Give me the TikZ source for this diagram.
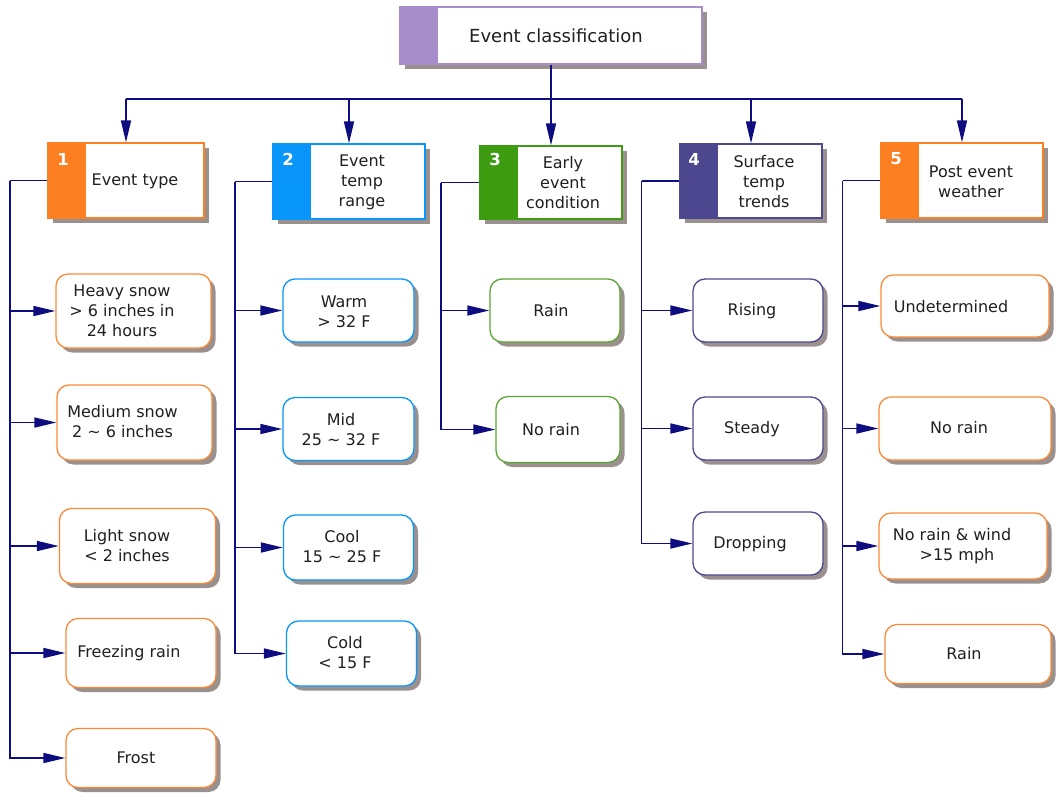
\documentclass[tikz,border=0pt]{standalone}
\usepackage{fontspec}
\setmainfont{DejaVu Sans}
\usetikzlibrary{arrows.meta,shadows}
\definecolor{navyl}{HTML}{0D0D80}
\definecolor{orangec}{HTML}{FC7F22}
\definecolor{orangeb}{HTML}{FB8A38}
\definecolor{bluec}{HTML}{0896FB}
\definecolor{greenc}{HTML}{3E9C10}
\definecolor{greenb}{HTML}{5AA632}
\definecolor{purpd}{HTML}{4D478F}
\definecolor{purpl}{HTML}{A78DCA}
\definecolor{shadowc}{HTML}{9A918F}
\definecolor{txtc}{HTML}{202020}
\begin{document}
\begin{tikzpicture}[x=1pt,y=-1pt,
  shad/.style={drop shadow={shadow xshift=4.5pt,shadow yshift=-4.5pt,fill=shadowc,opacity=1}},
  cat/.style={draw=#1, fill=white, line width=1.3pt, inner sep=0pt, shad,
    path picture={\fill[#1] (path picture bounding box.north west) rectangle ([xshift=38pt]path picture bounding box.south west);}},
  child/.style={draw=#1, fill=white, line width=1.3pt, rounded corners=12pt, inner sep=0pt, shad},
  txt/.style={text=txtc, align=center, inner sep=0pt, font=\fontsize{16}{20}\selectfont},
  num/.style={text=white, inner sep=0pt, font=\fontsize{16.5}{20}\selectfont\bfseries},
  ln/.style={draw=navyl, line width=1.7pt},
  arr/.style={ln, -{Triangle[length=22pt,width=10pt]}}]
\useasboundingbox (0,0) rectangle (1062,793);

% top
\node[cat=purpl, minimum width=302pt, minimum height=57pt] (top) at (551,35.5) {};
\node[txt, font=\fontsize{18}{22}\selectfont] (topt) at (556,36) {Event classification};

% categories
\node[cat=orangec, minimum width=156pt, minimum height=75pt] (c1) at (126,180.5) {};
\node[txt] (c1t) at (135,181) {Event type};
\node[num] (c1n) at (63,159) {1};

\node[cat=bluec, minimum width=152pt, minimum height=75pt] (c2) at (349,181.5) {};
\node[txt] (c2t) at (362,182) {Event\\temp\\range};
\node[num] (c2n) at (288,159) {2};

\node[cat=greenc, minimum width=142pt, minimum height=73pt] (c3) at (551,182.5) {};
\node[txt] (c3t) at (563,183) {Early\\event\\condition};
\node[num] (c3n) at (495,159) {3};

\node[cat=purpd, minimum width=142pt, minimum height=74pt] (c4) at (751,181) {};
\node[txt] (c4t) at (764,182) {Surface\\temp\\trends};
\node[num] (c4n) at (694,159) {4};

\node[cat=orangec, minimum width=162pt, minimum height=75pt] (c5) at (962,180.5) {};
\node[txt] (c5t) at (971,182) {Post event\\weather};
\node[num] (c5n) at (896,159) {5};

% column 1
\node[child=orangeb, minimum width=155pt, minimum height=74pt] (heavy) at (133.5,311) {};
\node[txt] (heavyt) at (122,311) {Heavy snow\\> 6 inches in\\24 hours};
\node[child=orangeb, minimum width=155pt, minimum height=75pt] (medium) at (134.5,422.5) {};
\node[txt] (mediumt) at (122.5,422) {Medium snow\\2 \textasciitilde{} 6 inches};
\node[child=orangeb, minimum width=156pt, minimum height=75pt] (light) at (137.5,546) {};
\node[txt] (lightt) at (127,546) {Light snow\\< 2 inches};
\node[child=orangeb, minimum width=150pt, minimum height=69pt] (freezing) at (141,653) {};
\node[txt] (freezingt) at (129,653) {Freezing rain};
\node[child=orangeb, minimum width=150pt, minimum height=59pt] (frost) at (141,758) {};
\node[txt] (frostt) at (136,758) {Frost};

% column 2
\node[child=bluec, minimum width=131pt, minimum height=63pt] (warm) at (348.5,310.5) {};
\node[txt] (warmt) at (344,312) {Warm\\> 32 F};
\node[child=bluec, minimum width=131pt, minimum height=63pt] (mid) at (348.5,429) {};
\node[txt] (midt) at (341,429.5) {Mid\\25 \textasciitilde{} 32 F};
\node[child=bluec, minimum width=130pt, minimum height=65pt] (cool) at (348.5,547.5) {};
\node[txt] (coolt) at (342,547) {Cool\\15 \textasciitilde{} 25 F};
\node[child=bluec, minimum width=130pt, minimum height=65pt] (cold) at (351.5,653.5) {};
\node[txt] (coldt) at (345,653) {Cold\\< 15 F};

% column 3
\node[child=greenb, minimum width=130pt, minimum height=63pt] (rain3) at (555,310.5) {};
\node[txt] (rain3t) at (551,311) {Rain};
\node[child=greenb, minimum width=124pt, minimum height=66pt] (norain3) at (558,429.5) {};
\node[txt] (norain3t) at (551,430) {No rain};

% column 4
\node[child=purpd, minimum width=130pt, minimum height=63pt] (rising) at (758,310.5) {};
\node[txt] (risingt) at (752,311) {Rising};
\node[child=purpd, minimum width=130pt, minimum height=63pt] (steady) at (758,428.5) {};
\node[txt] (steadyt) at (752,429) {Steady};
\node[child=purpd, minimum width=130pt, minimum height=63pt] (dropping) at (758,543.5) {};
\node[txt] (droppingt) at (750,544) {Dropping};

% column 5
\node[child=orangeb, minimum width=168pt, minimum height=62pt] (undet) at (965,306) {};
\node[txt] (undett) at (951,307) {Undetermined};
\node[child=orangeb, minimum width=172pt, minimum height=63pt] (norain5) at (965,428.5) {};
\node[txt] (norain5t) at (959,428) {No rain};
\node[child=orangeb, minimum width=168pt, minimum height=66pt] (wind) at (963,546) {};
\node[txt] (windt) at (952,546) {No rain \& wind\\\hspace*{10pt}>15 mph};
\node[child=orangeb, minimum width=166pt, minimum height=59pt] (rain5) at (968,654) {};
\node[txt] (rain5t) at (964,654) {Rain};

% top connectors
\coordinate (bus) at (0,99);
\draw[ln] (top.south) -- (top.south |- bus);
\draw[ln] (c1.north |- bus) -- (c5.north |- bus);
\foreach \c in {c1,c2,c3,c4,c5} \draw[arr] (\c.north |- bus) -- (\c.north);

% trunks
\coordinate (k1) at (10,0);
\coordinate (k2) at (235,0);
\coordinate (k3) at (441,0);
\coordinate (k4) at (641.5,0);
\coordinate (k5) at (842.5,0);

\draw[ln] (c1.west) -- (c1.west -| k1);
\draw[arr] (c1.west -| k1) |- (frost.west);
\foreach \b in {heavy,medium,light,freezing} \draw[arr] (k1 |- \b.west) -- (\b.west);

\draw[ln] (c2.west) -- (c2.west -| k2);
\draw[arr] (c2.west -| k2) |- (cold.west);
\foreach \b in {warm,mid,cool} \draw[arr] (k2 |- \b.west) -- (\b.west);

\draw[ln] (c3.west) -- (c3.west -| k3);
\draw[arr] (c3.west -| k3) |- (norain3.west);
\draw[arr] (k3 |- rain3.west) -- (rain3.west);

\draw[ln] (c4.west) -- (c4.west -| k4);
\draw[arr] (c4.west -| k4) |- (dropping.west);
\foreach \b in {rising,steady} \draw[arr] (k4 |- \b.west) -- (\b.west);

\draw[ln] (c5.west) -- (c5.west -| k5);
\draw[arr] (c5.west -| k5) |- (rain5.west);
\foreach \b in {undet,norain5,wind} \draw[arr] (k5 |- \b.west) -- (\b.west);
\end{tikzpicture}
\end{document}
